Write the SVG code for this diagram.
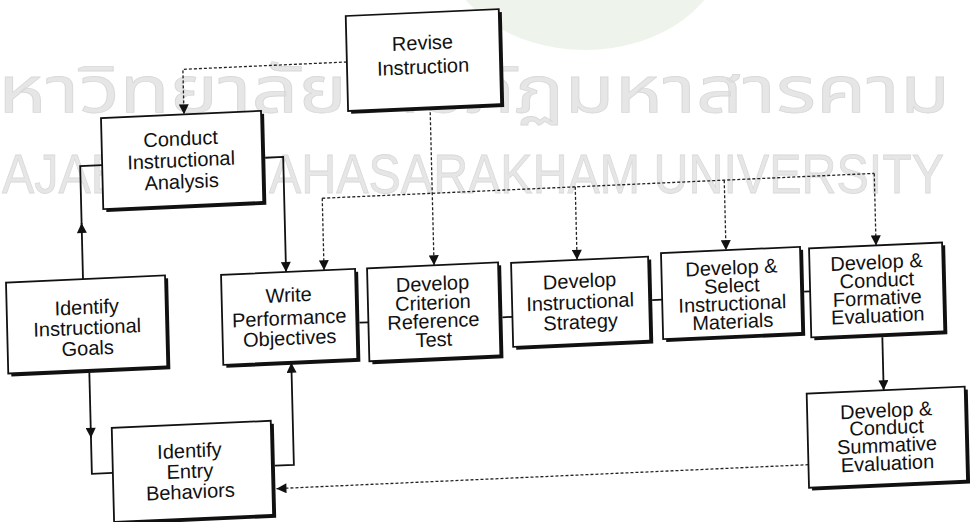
<svg xmlns="http://www.w3.org/2000/svg" width="970" height="522" viewBox="0 0 970 522">
<style>
.box{fill:#fff;stroke:#111;stroke-width:1.8}
.shadow{fill:#111}
.t{font-family:"Liberation Sans",Arial,sans-serif;font-size:20px;text-anchor:middle;fill:#111}
.solid{fill:none;stroke:#111;stroke-width:1.8}
.dash{fill:none;stroke:#222;stroke-width:1.3;stroke-dasharray:3 2}
.wm{fill:#e6e6e6;stroke:#d9d9d9;stroke-width:0.8}
</style>
<defs>
<marker id="arr" viewBox="0 0 10 10" refX="10" refY="5" markerWidth="11" markerHeight="10" markerUnits="userSpaceOnUse" orient="auto">
<path d="M0,0 L10,5 L0,10 z" fill="#111"/>
</marker>
</defs>
<rect width="970" height="522" fill="#fff"/>
<g id="watermark">
<ellipse cx="585" cy="-55" rx="140" ry="105" fill="#eef3ec"/>
<text class="wm" x="-2" y="112" font-family="'Noto Sans Thai','Loma','Garuda','Norasi','Noto Sans',sans-serif" font-size="64" textLength="952" lengthAdjust="spacingAndGlyphs">หาวิทยาลัยราชภัฏมหาสารคาม</text>
<text class="wm" x="2" y="193" font-family="'Liberation Sans',Arial,sans-serif" font-size="56" textLength="942" lengthAdjust="spacingAndGlyphs">AJABHAT MAHASARAKHAM UNIVERSITY</text>
</g>
<g transform="matrix(1,-0.045,0.025,1,-6.525,21.825)">
<g id="connectors">
<path class="dash" d="M352,56 H188 V101" marker-end="url(#arr)"/>
<path class="dash" d="M434,105 V263" marker-end="url(#arr)"/>
<path class="dash" d="M324,191 H876"/>
<path class="dash" d="M324,191 V263" marker-end="url(#arr)"/>
<path class="dash" d="M577,191 V264" marker-end="url(#arr)"/>
<path class="dash" d="M726,191 V261" marker-end="url(#arr)"/>
<path class="dash" d="M876,191 V263" marker-end="url(#arr)"/>
<path class="solid" d="M268,148 H286 V263" marker-end="url(#arr)"/>
<path class="solid" d="M83,261 V205" marker-end="url(#arr)"/>
<path class="solid" d="M83,206 V148 H105"/>
<path class="solid" d="M87,355 V420" marker-end="url(#arr)"/>
<path class="solid" d="M87,419 V456 H108"/>
<path class="solid" d="M270,456 H289 V354" marker-end="url(#arr)"/>
<path class="solid" d="M358,317 H367"/>
<path class="solid" d="M501,318 H511"/>
<path class="solid" d="M651,307.5 H661"/>
<path class="solid" d="M803,306 H809"/>
<path class="solid" d="M880,355 V408" marker-end="url(#arr)"/>
<path class="dash" d="M803,479 H271" marker-end="url(#arr)"/>
</g>
<g id="revise">
<rect class="shadow" x="355" y="13" width="153" height="95"/>
<rect class="box" x="352" y="10" width="153" height="95"/>
<text class="t"><tspan x="428" y="47">Revise</tspan><tspan x="428" y="71">Instruction</tspan></text>
</g>
<g id="conduct">
<rect class="shadow" x="108" y="104" width="160" height="91"/>
<rect class="box" x="105" y="101" width="160" height="91"/>
<text class="t"><tspan x="184" y="132">Conduct</tspan><tspan x="184" y="153.5">Instructional</tspan><tspan x="184" y="175">Analysis</tspan></text>
</g>
<g id="goals">
<rect class="shadow" x="9" y="264" width="159" height="91"/>
<rect class="box" x="6" y="261" width="159" height="91"/>
<text class="t"><tspan x="86" y="296">Identify</tspan><tspan x="86" y="316.5">Instructional</tspan><tspan x="86" y="337">Goals</tspan></text>
</g>
<g id="entry">
<rect class="shadow" x="111" y="414" width="159" height="94"/>
<rect class="box" x="108" y="411" width="159" height="94"/>
<text class="t"><tspan x="185" y="444">Identify</tspan><tspan x="185" y="464.5">Entry</tspan><tspan x="185" y="485">Behaviors</tspan></text>
</g>
<g id="write">
<rect class="shadow" x="224" y="266" width="134" height="90"/>
<rect class="box" x="221" y="263" width="134" height="90"/>
<text class="t"><tspan x="288" y="293">Write</tspan><tspan x="288" y="316">Performance</tspan><tspan x="288" y="336">Objectives</tspan></text>
</g>
<g id="criterion">
<rect class="shadow" x="370" y="266" width="131" height="93"/>
<rect class="box" x="367" y="263" width="131" height="93"/>
<text class="t"><tspan x="432" y="288">Develop</tspan><tspan x="432" y="307">Criterion</tspan><tspan x="432" y="325.5">Reference</tspan><tspan x="432" y="344">Test</tspan></text>
</g>
<g id="strategy">
<rect class="shadow" x="514" y="267" width="137" height="84"/>
<rect class="box" x="511" y="264" width="137" height="84"/>
<text class="t"><tspan x="579" y="292">Develop</tspan><tspan x="579" y="313">Instructional</tspan><tspan x="579" y="333">Strategy</tspan></text>
</g>
<g id="materials">
<rect class="shadow" x="664" y="264" width="139" height="86"/>
<rect class="box" x="661" y="261" width="139" height="86"/>
<text class="t"><tspan x="731" y="285.5">Develop &amp;</tspan><tspan x="731" y="303.5">Select</tspan><tspan x="731" y="321.5">Instructional</tspan><tspan x="731" y="339.5">Materials</tspan></text>
</g>
<g id="formative">
<rect class="shadow" x="812" y="266" width="133" height="89"/>
<rect class="box" x="809" y="263" width="133" height="89"/>
<text class="t"><tspan x="876" y="286.5">Develop &amp;</tspan><tspan x="876" y="304.5">Conduct</tspan><tspan x="876" y="322.5">Formative</tspan><tspan x="876" y="340">Evaluation</tspan></text>
</g>
<g id="summative">
<rect class="shadow" x="806" y="411" width="158" height="94"/>
<rect class="box" x="803" y="408" width="158" height="94"/>
<text class="t"><tspan x="882" y="435">Develop &amp;</tspan><tspan x="882" y="452">Conduct</tspan><tspan x="882" y="470">Summative</tspan><tspan x="882" y="488">Evaluation</tspan></text>
</g>
</g>
</svg>
